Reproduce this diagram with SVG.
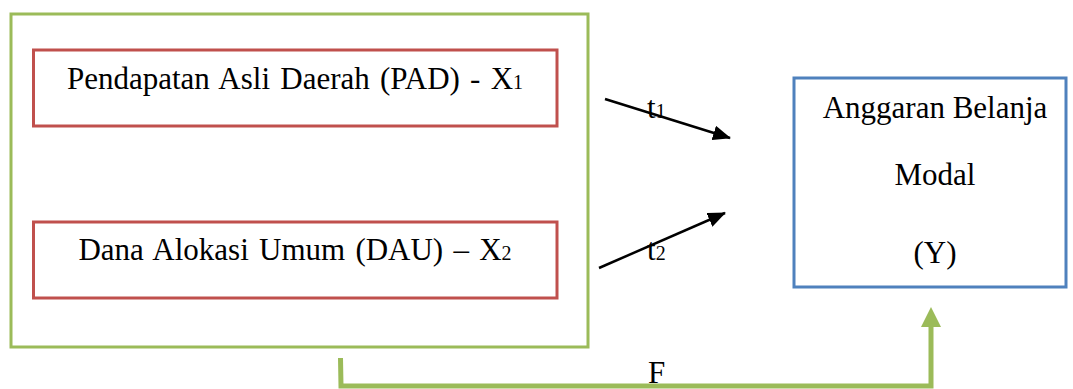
<svg xmlns="http://www.w3.org/2000/svg" width="1073" height="389" viewBox="0 0 1073 389">
<style>
text{font-family:"Liberation Serif","Times New Roman",serif;fill:#000;font-size:31px}
.w{word-spacing:2.5px}
.g{fill:none;stroke:#9BBB59;stroke-width:3}
.r{fill:none;stroke:#C0504D;stroke-width:3}
.b{fill:none;stroke:#4F81BD;stroke-width:3}
.sub{font-size:20px}
.ln{stroke:#000;stroke-width:2.5;fill:none}
</style>
<defs>
<marker id="ah" markerWidth="18" markerHeight="15" refX="17" refY="7.5" orient="auto" markerUnits="userSpaceOnUse">
<path d="M0,0 L18,7.5 L0,15 Z" fill="#000"/>
</marker>
</defs>
<rect width="1073" height="389" fill="#fff"/>
<g id="group-box">
<rect class="g" x="11" y="14" width="577" height="333"/>
</g>
<g id="node-pad">
<rect class="r" x="33.5" y="50" width="523.5" height="76"/>
<text class="w" x="295" y="88.5" text-anchor="middle">Pendapatan Asli Daerah (PAD) - X<tspan class="sub">1</tspan></text>
</g>
<g id="node-dau">
<rect class="r" x="33.5" y="222" width="523.5" height="76"/>
<text class="w" x="295" y="260" text-anchor="middle">Dana Alokasi Umum (DAU) – X<tspan class="sub">2</tspan></text>
</g>
<g id="node-y">
<rect class="b" x="794" y="78" width="272" height="209"/>
<text x="935" y="118" text-anchor="middle">Anggaran Belanja</text>
<text x="935" y="185" text-anchor="middle">Modal</text>
<text x="935" y="263" text-anchor="middle">(Y)</text>
</g>
<g id="connectors">
<line class="ln" x1="605" y1="99" x2="730" y2="138" marker-end="url(#ah)"/>
<line class="ln" x1="599" y1="268" x2="725" y2="213" marker-end="url(#ah)"/>
<path d="M340.5,358 L341,386 L931,386 L931,326" fill="none" stroke="#9BBB59" stroke-width="5"/>
<path d="M921,327 L931,307 L941,327 Z" fill="#9BBB59"/>
<text x="647" y="118">t<tspan class="sub">1</tspan></text>
<text x="647" y="260">t<tspan class="sub">2</tspan></text>
<text x="648" y="383">F</text>
</g>
</svg>
